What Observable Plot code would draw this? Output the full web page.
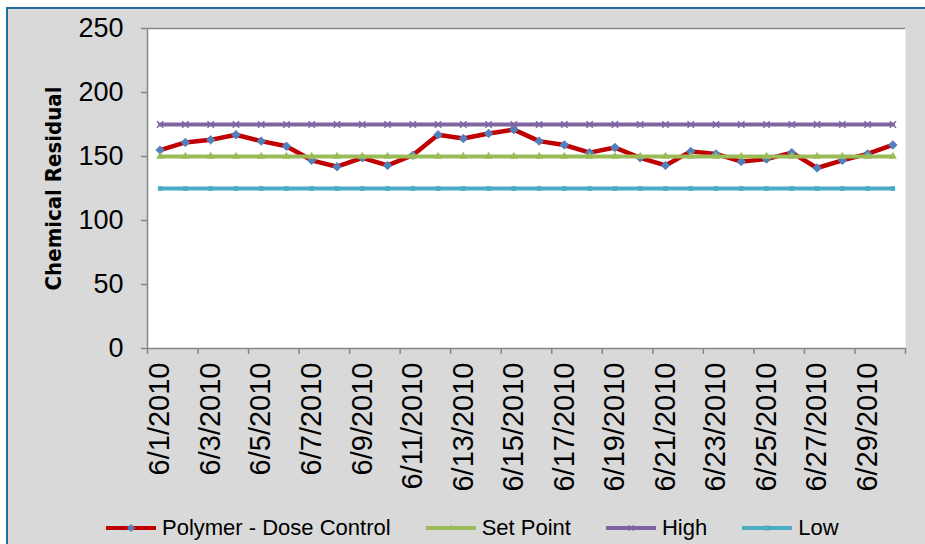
<!DOCTYPE html>
<html>
<head>
<meta charset="utf-8">
<script src="https://cdn.jsdelivr.net/npm/d3@7"></script>
<script src="https://cdn.jsdelivr.net/npm/@observablehq/plot@0.6"></script>
<style>
  html, body { margin: 0; padding: 0; background: #ffffff; overflow: hidden; }
  #wrap { position: relative; width: 925px; height: 544px; overflow: hidden; }
  #box { position: absolute; left: 6px; top: 7px; width: 950px; height: 570px;
         background: #d9d9d9; border: 2.5px solid #1f6fa3; box-sizing: border-box; }
  #chart { position: absolute; left: 0; top: 0; }
  #legend { position: absolute; left: 106px; top: 514px; display: flex; align-items: center;
            font-family: "Liberation Sans", Arial, sans-serif; font-size: 22px; color: #000; }
  .item { display: flex; align-items: center; margin-right: 35px; }
  .item svg { margin-right: 6px; }
</style>
</head>
<body>
<div id="wrap">
  <div id="box"></div>
  <div id="chart"></div>
  <div id="legend"></div>
</div>
<script>
const dates = ["6/1/2010","6/2/2010","6/3/2010","6/4/2010","6/5/2010","6/6/2010","6/7/2010","6/8/2010","6/9/2010","6/10/2010",
  "6/11/2010","6/12/2010","6/13/2010","6/14/2010","6/15/2010","6/16/2010","6/17/2010","6/18/2010","6/19/2010","6/20/2010",
  "6/21/2010","6/22/2010","6/23/2010","6/24/2010","6/25/2010","6/26/2010","6/27/2010","6/28/2010","6/29/2010","6/30/2010"];
const polymer = [155,161,163,167,162,158,147,142,149,143,151,167,164,168,171,162,159,153,157,149,143,154,152,146,148,153,141,147,152,159];
const setPoint = [150,150,150,150,150,150,150,150,150,150,150,150,150,150,150,150,150,150,150,150,150,150,150,150,150,150,150,150,150,150];
const high = [175,175,175,175,175,175,175,175,175,175,175,175,175,175,175,175,175,175,175,175,175,175,175,175,175,175,175,175,175,175];
const low = [125,125,125,125,125,125,125,125,125,125,125,125,125,125,125,125,125,125,125,125,125,125,125,125,125,125,125,125,125,125];
const yTicks = [0,50,100,150,200,250];
const seriesNames = ["Polymer - Dose Control","Set Point","High","Low"];
const colors = {line: "#c00000", marker: "#4f81bd", set: "#9bbb59", high: "#8064a2", low: "#4bacc6", axis: "#868686"};

const rows = (vals) => vals.map((v, i) => ({day: i + 1, value: v}));
const polyRows = rows(polymer), setRows = rows(setPoint), highRows = rows(high), lowRows = rows(low);
const labelDays = dates.map((d, i) => i + 1).filter(d => d % 2 === 1);
const boundaryTicks = dates.map((d, i) => i + 0.5).filter((b, i) => i % 2 === 0).concat([dates.length + 0.5]);

const chart = Plot.plot({
  width: 925,
  height: 505,
  marginLeft: 147,
  marginRight: 20,
  marginTop: 28,
  marginBottom: 157,
  style: {fontFamily: "Liberation Sans, Arial, sans-serif", fontSize: "26px", color: "#000", background: "transparent", overflow: "visible"},
  x: {domain: [0.5, dates.length + 0.5]},
  y: {domain: [0, 250]},
  marks: [
    Plot.frame({fill: "white", stroke: null}),
    Plot.ruleY([250], {stroke: colors.axis, strokeWidth: 1.5}),
    Plot.line(polyRows, {x: "day", y: "value", stroke: colors.line, strokeWidth: 4.5}),
    Plot.dot(polyRows, {x: "day", y: "value", symbol: "diamond2", r: 3.8, fill: colors.marker, stroke: colors.marker, strokeWidth: 1}),
    Plot.line(setRows, {x: "day", y: "value", stroke: colors.set, strokeWidth: 4}),
    Plot.dot(setRows, {x: "day", y: "value", symbol: "triangle", r: 3, fill: colors.set}),
    Plot.line(highRows, {x: "day", y: "value", stroke: colors.high, strokeWidth: 4}),
    Plot.dot(highRows, {x: "day", y: "value", symbol: "times", r: 3, stroke: colors.high, strokeWidth: 1.5}),
    Plot.line(lowRows, {x: "day", y: "value", stroke: colors.low, strokeWidth: 4}),
    Plot.dot(lowRows, {x: "day", y: "value", symbol: "square", r: 2.6, fill: colors.low}),
    Plot.ruleX([0.5], {stroke: colors.axis, strokeWidth: 1.5}),
    Plot.ruleY([0], {stroke: colors.axis, strokeWidth: 1.5}),
    Plot.axisY({ticks: yTicks, tickSize: 6, tickPadding: 18, stroke: colors.axis, strokeWidth: 1.5, fontSize: 27,
      label: "Chemical Residual", labelAnchor: "center", labelArrow: "none", labelOffset: 102}),
    Plot.axisX({ticks: boundaryTicks, tickSize: 6, tickFormat: () => "", stroke: colors.axis, strokeWidth: 1.5, label: null}),
    Plot.axisX({ticks: labelDays, tickSize: 0, tickPadding: 14, tickRotate: -90, fontSize: 29,
      tickFormat: d => dates[d - 1], label: null})
  ]
});
chart.querySelectorAll("[aria-label='y-axis label'] text, [aria-label='y-axis label']").forEach(el => {
  el.setAttribute("font-weight", "bold");
  el.setAttribute("font-size", "22px");
  el.style.fontFamily = "'Liberation Sans Narrow', 'DejaVu Sans Condensed', sans-serif";
  el.style.fontSize = "22px";
});
document.getElementById("chart").appendChild(chart);

// legend
const legendSpecs = [
  {name: seriesNames[0], color: colors.line, marker: "diamond", mcolor: colors.marker},
  {name: seriesNames[1], color: colors.set, marker: "triangle", mcolor: colors.set},
  {name: seriesNames[2], color: colors.high, marker: "times", mcolor: colors.high},
  {name: seriesNames[3], color: colors.low, marker: "square", mcolor: colors.low}
];
const legend = document.getElementById("legend");
legendSpecs.forEach(s => {
  const item = document.createElement("div");
  item.className = "item";
  let m = "";
  if (s.marker === "diamond") m = `<path d="M25,10 L29,14 L25,18 L21,14 Z" fill="${s.mcolor}"/>`;
  if (s.marker === "triangle") m = `<path d="M25,10.5 L28,15 L22,15 Z" fill="${s.mcolor}"/>`;
  if (s.marker === "times") m = `<path d="M22.5,11.5 L27.5,16.5 M27.5,11.5 L22.5,16.5" stroke="${s.mcolor}" stroke-width="1.5"/>`;
  if (s.marker === "square") m = `<rect x="22.5" y="11.5" width="5" height="5" fill="${s.mcolor}"/>`;
  item.innerHTML = `<svg width="50" height="28"><line x1="0" x2="50" y1="14" y2="14" stroke="${s.color}" stroke-width="4"/>${m}</svg><span>${s.name}</span>`;
  legend.appendChild(item);
});
</script>
</body>
</html>
